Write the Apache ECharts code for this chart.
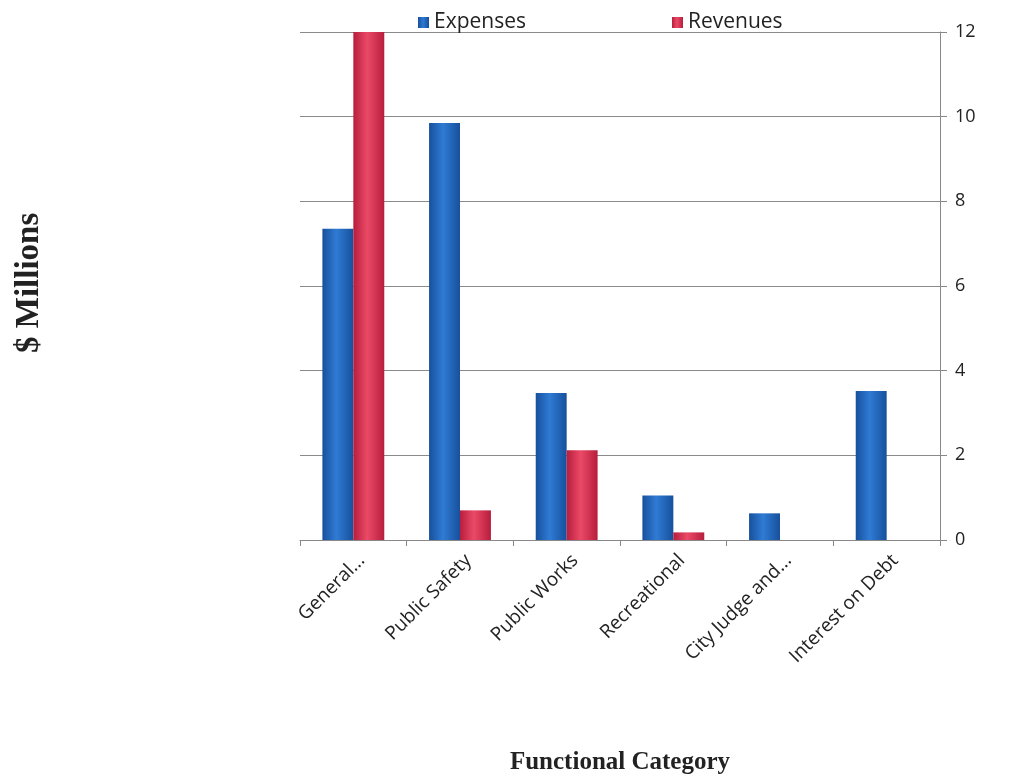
<!DOCTYPE html>
<html>
<head>
<meta charset="utf-8">
<script src="https://cdn.jsdelivr.net/npm/echarts@6/dist/echarts.min.js"></script>
<style>
    html, body { margin: 0; padding: 0; background: #fff; }
    #chart { width: 1010px; height: 777px; }
</style>
</head>
<body>
<div id="chart"></div>
<script>
    var categorias = ['General...', 'Public Safety', 'Public Works', 'Recreational', 'City Judge and...', 'Interest on Debt'];
    var despesas = [7.35, 9.85, 3.47, 1.05, 0.63, 3.52];
    var receitas = [12, 0.7, 2.12, 0.18, 0, 0];
    var ticksY = [0, 2, 4, 6, 8, 10, 12];

    function gradiente(borda, centro) {
        return new echarts.graphic.LinearGradient(0, 0, 1, 0, [
            { offset: 0, color: borda },
            { offset: 0.45, color: centro },
            { offset: 1, color: borda }
        ]);
    }

    var dom = document.getElementById('chart');
    var chart = echarts.init(dom, null, { renderer: 'canvas' });

    chart.setOption({
        animation: false,
        legend: {
            left: 413,
            top: 7,
            itemGap: 146,
            itemWidth: 11,
            itemHeight: 11,
            icon: 'rect',
            textStyle: { fontFamily: 'Open Sans', fontSize: 21, color: '#222' },
            data: ['Expenses', 'Revenues']
        },
        grid: { left: 300, right: 70, top: 32, bottom: 237, outerBoundsMode: 'none' },
        xAxis: {
            type: 'category',
            data: categorias,
            name: 'Functional Category',
            nameLocation: 'middle',
            nameGap: 210,
            nameTextStyle: { fontFamily: 'Liberation Serif', fontWeight: 'bold', fontSize: 25, color: '#222' },
            axisLine: { lineStyle: { color: '#888' } },
            axisTick: { show: true, length: 6, lineStyle: { color: '#888' } },
            axisLabel: { rotate: 45, fontFamily: 'Open Sans', fontSize: 19, color: '#222', margin: 26, padding: [18, -12, 0, 0] }
        },
        yAxis: {
            type: 'value',
            position: 'right',
            min: ticksY[0],
            max: ticksY[ticksY.length - 1],
            interval: 2,
            axisLine: { show: true, lineStyle: { color: '#888' } },
            axisTick: { show: true, length: 7, lineStyle: { color: '#888' } },
            axisLabel: { fontFamily: 'Open Sans', fontSize: 18, color: '#222', margin: 15 },
            splitLine: { lineStyle: { color: '#8a8a8a', width: 1 } }
        },
        series: [
            {
                name: 'Expenses',
                type: 'bar',
                data: despesas,
                barGap: '0%',
                barCategoryGap: '42%',
                itemStyle: { color: gradiente('#17509c', '#2f7bd4') }
            },
            {
                name: 'Revenues',
                type: 'bar',
                data: receitas,
                itemStyle: { color: gradiente('#b81d3d', '#ea4a66') }
            }
        ],
        graphic: [{
            type: 'text',
            x: 13,
            y: 353,
            rotation: Math.PI / 2,
            style: {
                text: '$ Millions',
                font: 'bold 33px "Liberation Serif"',
                fill: '#222'
            }
        }]
    });

    window.addEventListener('resize', chart.resize);
</script>
</body>
</html>
